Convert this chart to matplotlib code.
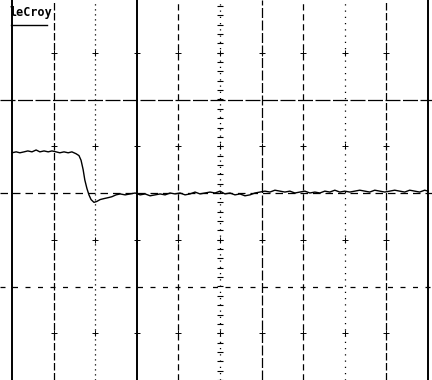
import numpy as np
import matplotlib.pyplot as plt

# trace, in divisions (time) and divisions (volts)
t_div = [0.00, 0.10, 0.19, 0.29, 0.38, 0.48, 0.58, 0.67, 0.77, 0.87, 0.96, 1.06, 1.15,
         1.25, 1.35, 1.44, 1.54, 1.61, 1.66, 1.71, 1.75, 1.80, 1.85, 1.90, 1.97, 2.04,
         2.12, 2.21, 2.31, 2.40, 2.50, 2.60, 2.72, 2.84, 2.96,
         3.08, 3.20, 3.32, 3.44, 3.56, 3.68, 3.80, 3.92, 4.04, 4.16, 4.28, 4.40, 4.52,
         4.64, 4.76, 4.88, 5.00, 5.12, 5.24, 5.36, 5.48, 5.60, 5.72, 5.84, 5.96, 6.08,
         6.20, 6.32, 6.44, 6.56, 6.68, 6.80, 6.92, 7.04, 7.16, 7.28, 7.40, 7.52, 7.64,
         7.76, 7.88, 8.00, 8.12, 8.24, 8.36, 8.48, 8.60, 8.72, 8.84, 8.96, 9.08, 9.20,
         9.32, 9.44, 9.56, 9.68, 9.80, 9.92, 10.00]
v_div = [0.43, 0.44, 0.43, 0.44, 0.45, 0.44, 0.46, 0.44, 0.45, 0.44, 0.45, 0.44, 0.43,
         0.44, 0.43, 0.44, 0.42, 0.40, 0.35, 0.25, 0.14, 0.05, -0.02, -0.07, -0.10, -0.09,
         -0.07, -0.06, -0.05, -0.04, -0.02, -0.01, -0.02, -0.01, 0.00,
         -0.02, -0.01, -0.03, -0.02, -0.01, -0.02, 0.00, -0.01, 0.00, -0.02,
         -0.01, 0.01, -0.01, 0.00, 0.01, 0.00, 0.02, -0.01, 0.00, -0.02,
         -0.01, -0.03, -0.02, 0.00, 0.01, 0.02, 0.01, 0.03, 0.02, 0.01,
         0.02, 0.00, 0.01, 0.02, 0.00, 0.01, 0.00, 0.02, 0.01, 0.03,
         0.01, 0.02, 0.01, 0.02, 0.03, 0.02, 0.01, 0.03, 0.02, 0.01,
         0.02, 0.03, 0.02, 0.01, 0.03, 0.02, 0.01, 0.03, 0.02]

# graticule
v_lines = [0, 1, 2, 3, 4, 5, 6, 7, 8, 9, 10]
v_styles = ['-', (0, (6, 2)), (0, (1, 3)), '-', (0, (5, 3)), (0, (1, 4)),
            (0, (8, 2)), (0, (5, 3)), (0, (1, 4)), (0, (6, 2)), '-']
h_lines = [1, 0, -1]
h_styles = [(0, (12, 2)), (0, (6, 4)), (0, (4, 6))]
cross_rows = [1.5, 0.5, -0.5, -1.5]

fig = plt.figure(figsize=(4.32, 3.8), dpi=100)
ax = fig.add_axes([0, 0, 1, 1])
ax.set_xlim(-12 / 41.6, 420 / 41.6)
ax.set_ylim(-187 / 93.5, 193 / 93.5)
ax.axis('off')

for x, ls in zip(v_lines, v_styles):
    lw = 1.4 if ls == '-' else 0.9
    ax.axvline(x, color='black', lw=lw, ls=ls)
for y, ls in zip(h_lines, h_styles):
    ax.axhline(y, color='black', lw=0.9, ls=ls)

# little crosses between the lines
for x in v_lines[1:-1]:
    ax.plot([x] * len(cross_rows), cross_rows, '+', color='black', ms=4, mew=0.7)

# minor ticks on the centre axis
minor = np.arange(-2.0, 2.05, 0.1)
ax.plot([5] * len(minor), minor, '_', color='black', ms=4, mew=0.8)

ax.plot(t_div, v_div, color='black', lw=1.0)

ax.text(-0.05, 2.0, 'leCroy', fontsize=8.5, fontweight='bold', family='DejaVu Sans Mono',
        ha='left', va='top', transform=ax.transData)
ax.plot([-0.02, 0.85], [1.80, 1.80], color='black', lw=1.0)

fig.savefig('out.png', dpi=100, facecolor='white')
